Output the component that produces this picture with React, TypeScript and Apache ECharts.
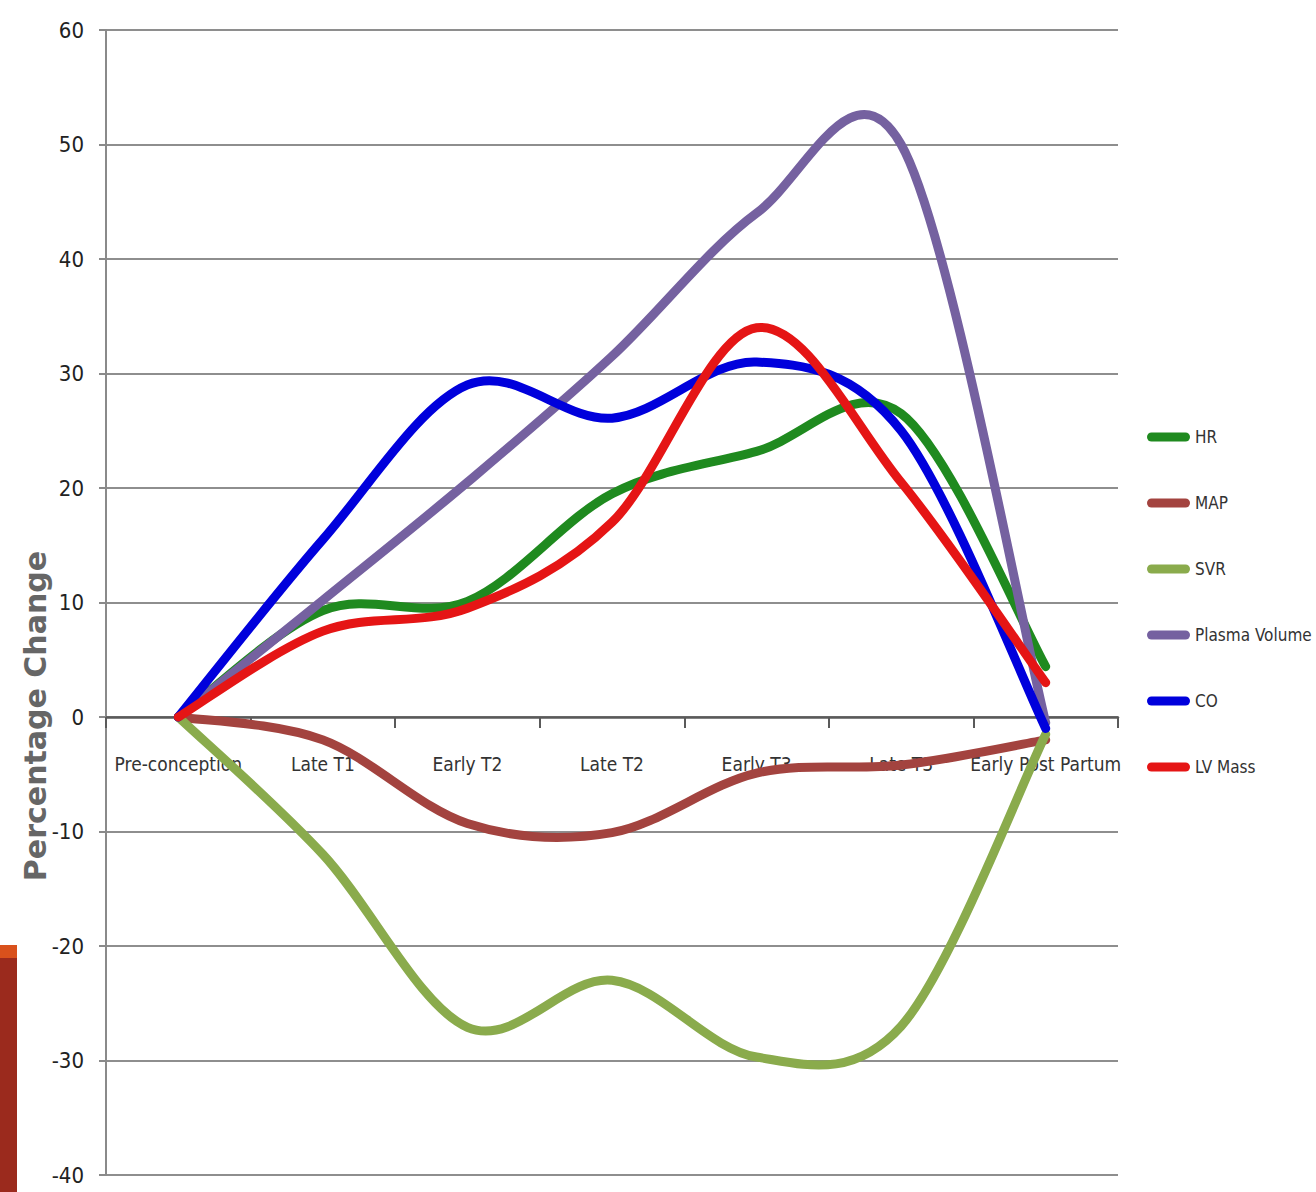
import React, { useEffect, useRef } from "react";
import * as echarts from "echarts";

const categories = [
  "Pre-conception",
  "Late T1",
  "Early T2",
  "Late T2",
  "Early T3",
  "Late T3",
  "Early Post Partum",
];

const hr = [0, 9.3, 10.1, 19.5, 23.2, 26.5, 4.4];
const map = [0, -2, -9.3, -10.1, -4.9, -4.2, -2];
const svr = [0, -12, -27.1, -23, -29.7, -27, -1.5];
const plasmaVolume = [0, 10.2, 20.5, 31.5, 44, 50, -0.5];
const co = [0, 15.5, 29, 26.1, 31, 25, -1];
const lvMass = [0, 7.5, 9.5, 17, 34, 20.5, 3];

const seriesNames = ["HR", "MAP", "SVR", "Plasma Volume", "CO", "LV Mass"];
const seriesData = [hr, map, svr, plasmaVolume, co, lvMass];
const seriesColors = ["#1f8a1f", "#a3433f", "#8aab4c", "#7561a0", "#0000dc", "#e51515"];

const yTicks = { min: -40, max: 60, interval: 10 };

const NARROW = '"DejaVu Sans Condensed", "Liberation Sans Narrow", sans-serif';

const GRID_TOP = 30;
const GRID_BOTTOM_Y = 1175;

// Excel-style smoothed line (Catmull-Rom, tension 1/6) through points given by the axes.
function smoothPath(pts: number[][]): string {
  let d = `M${pts[0][0]},${pts[0][1]}`;
  for (let j = 0; j < pts.length - 1; j++) {
    const p0 = pts[j - 1] || pts[j];
    const p1 = pts[j];
    const p2 = pts[j + 1];
    const p3 = pts[j + 2] || pts[j + 1];
    const c1x = p1[0] + (p2[0] - p0[0]) / 6;
    const c1y = p1[1] + (p2[1] - p0[1]) / 6;
    const c2x = p2[0] - (p3[0] - p1[0]) / 6;
    const c2y = p2[1] - (p3[1] - p1[1]) / 6;
    d += ` C${c1x},${c1y} ${c2x},${c2y} ${p2[0]},${p2[1]}`;
  }
  return d;
}

export default function App() {
  const ref = useRef<HTMLDivElement>(null);

  useEffect(() => {
    if (!ref.current) return;
    const chart = echarts.init(ref.current, undefined, { renderer: "svg" });
    const zeroY = GRID_TOP + ((yTicks.max - 0) / (yTicks.max - yTicks.min)) * (GRID_BOTTOM_Y - GRID_TOP);
    chart.setOption({
      animation: false,
      backgroundColor: "#ffffff",
      grid: {
        left: 106,
        right: 198,
        top: GRID_TOP,
        bottom: 1192 - GRID_BOTTOM_Y,
        containLabel: false,
        outerBoundsMode: "none",
      },
      legend: {
        orient: "vertical",
        left: 1147,
        top: 425,
        padding: 0,
        itemWidth: 43,
        itemHeight: 9,
        itemGap: 42,
        icon: "path://M4.5,0 H38.5 A4.5,4.5 0 0 1 38.5,9 H4.5 A4.5,4.5 0 0 1 4.5,0 Z",
        textStyle: {
          fontFamily: NARROW,
          fontSize: 17,
          lineHeight: 24,
          color: "#333333",
        },
        data: seriesNames,
      },
      xAxis: {
        type: "category",
        data: categories,
        boundaryGap: true,
        position: "bottom",
        offset: -(GRID_BOTTOM_Y - zeroY),
        axisLine: { onZero: false, lineStyle: { color: "#5a5a5a", width: 2.5 } },
        axisTick: { show: true, length: 11, lineStyle: { color: "#5a5a5a", width: 2 } },
        axisLabel: {
          margin: 37,
          fontFamily: NARROW,
          fontSize: 19,
          color: "#333333",
          interval: 0,
        },
        splitLine: { show: false },
      },
      yAxis: {
        type: "value",
        min: yTicks.min,
        max: yTicks.max,
        interval: yTicks.interval,
        axisLine: { show: true, lineStyle: { color: "#8a8a8a", width: 2 } },
        axisTick: { show: true, length: 7, lineStyle: { color: "#8a8a8a", width: 2 } },
        axisLabel: {
          margin: 22,
          fontFamily: NARROW,
          fontSize: 22,
          color: "#222222",
        },
        splitLine: { show: true, lineStyle: { color: "#8e8e8e", width: 2 } },
      },
      graphic: [
        {
          type: "text",
          x: 35,
          y: 716,
          rotation: Math.PI / 2,
          style: {
            text: "Percentage Change",
            fontFamily: '"DejaVu Sans", Verdana, sans-serif',
            fontSize: 30,
            fontWeight: "bold",
            fill: "#666666",
            textAlign: "center",
            textVerticalAlign: "middle",
          },
        },
        {
          type: "rect",
          shape: { x: 0, y: 945, width: 17, height: 13 },
          style: { fill: "#d9511c" },
        },
        {
          type: "rect",
          shape: { x: 0, y: 958, width: 17, height: 234 },
          style: { fill: "#9b2a1d" },
        },
      ],
      series: seriesNames.map((name, i) => ({
        name,
        type: "custom",
        data: [[0, seriesData[i][0]]],
        encode: { x: 0, y: 1 },
        itemStyle: { color: seriesColors[i] },
        clip: false,
        renderItem: (_params: any, api: any) => {
          const pts = seriesData[i].map((v, j) => api.coord([j, v]));
          return {
            type: "path",
            silent: true,
            shape: { pathData: smoothPath(pts) },
            style: {
              fill: "none",
              stroke: seriesColors[i],
              lineWidth: 9,
              lineCap: "round",
              lineJoin: "round",
            },
          };
        },
      })),
    });
    return () => chart.dispose();
  }, []);

  return (
    <div
      ref={ref}
      style={{ position: "fixed", left: 0, top: 0, width: 1316, height: 1192 }}
    />
  );
}
